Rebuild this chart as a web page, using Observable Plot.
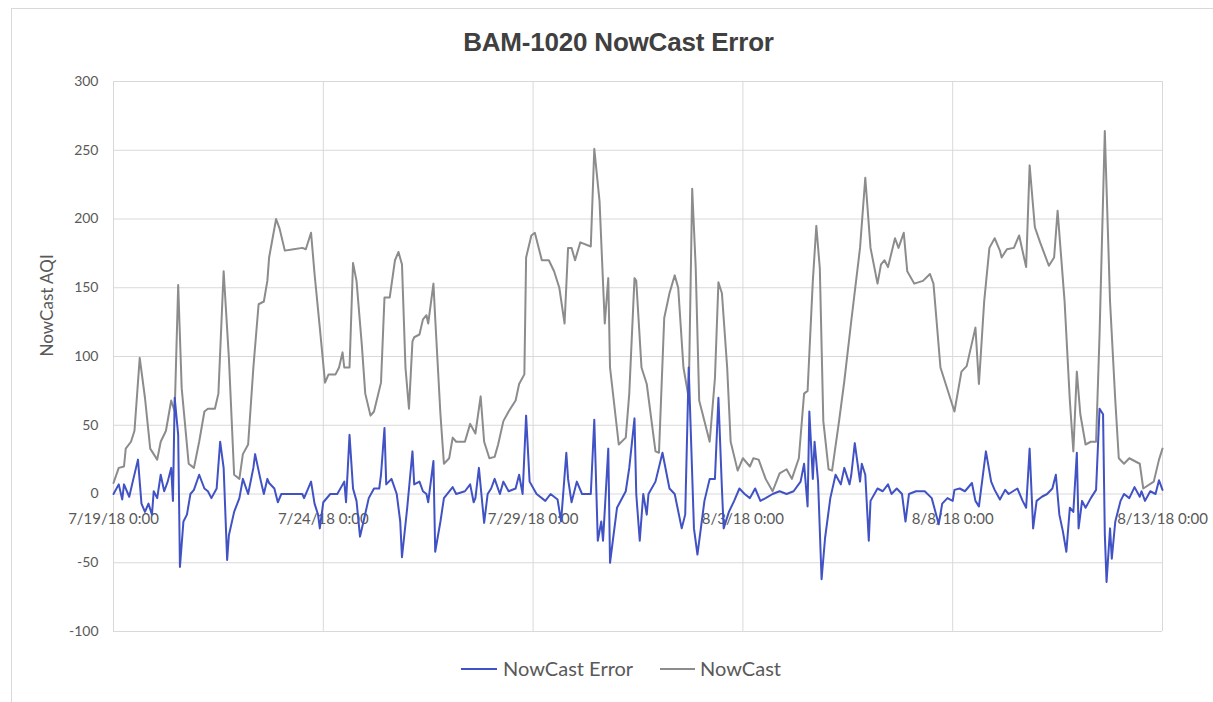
<!DOCTYPE html>
<html><head><meta charset="utf-8">
<script src="https://cdn.jsdelivr.net/npm/d3@7"></script>
<script src="https://cdn.jsdelivr.net/npm/@observablehq/plot@0.6"></script>
<style>
body{margin:0;background:#fff;}
#wrap{position:relative;width:1213px;height:702px;overflow:hidden;font-family:Lato,"Open Sans",sans-serif;background:#fff;}
#frame{position:absolute;left:11px;top:8px;width:1260px;height:760px;border-left:1px solid #d9d9d9;border-top:1px solid #d9d9d9;}
#title{position:absolute;left:0;top:27px;width:1237px;text-align:center;font:bold 26px "Liberation Sans",Arial,sans-serif;line-height:30px;color:#404040;letter-spacing:-0.2px;}
#chart{position:absolute;left:0;top:60px;}
.lg-line{position:absolute;height:2px;top:668px;}
.lg-text{position:absolute;top:656px;font-size:20px;line-height:24px;color:#595959;}
</style>
</head><body>
<div id="wrap">
  <div id="frame"></div>
  <div id="title">BAM-1020 NowCast Error</div>
  <div id="chart"></div>
  <div class="lg-line" style="left:461px;width:36px;background:#4052c4"></div>
  <div class="lg-text" style="left:503px">NowCast Error</div>
  <div class="lg-line" style="left:660px;width:35px;background:#8c8c8c"></div>
  <div class="lg-text" style="left:700px">NowCast</div>
</div>
<script>
// Hours since 7/19/18 0:00
const nowcastHours = [0,3,6,7,10,12,15,18,21,25,27,30,33,35,37,39,43,46,49,52,54,58,60,63,66,69,72,74,77,80,83,86,88,89,93,95,98,103,108,110,113,115,118,121,123,127,129,131,132,135,137,139,142,144,147,149,153,155,158,161,163,165,167,169,171,172,175,177,179,180,183,184,187,189,192,194,196,201,204,207,210,212,215,218,220,223,226,230,232,235,236,239,241,245,249,252,255,258,260,262,264,267,273,275,278,281,283,284,289,293,295,298,299,302,305,310,312,315,318,321,323,326,329,331,333,335,341,344,346,348,351,353,357,360,364,366,369,373,377,381,385,388,392,395,397,398,400,402,404,406,409,411,415,418,422,427,430,433,437,439,441,443,447,449,452,454,458,463,467,469,473,476,481,485,488,493,495,498,501,504,507,508,511,515,518,522,524,527,530,535,538,540,544,547,549,551,553,556,559,562,564,567,570,573,575,578,581,584,587,589,595,598,600];
const nowcastValues = [8,19,20,33,38,46,99,70,33,25,38,46,68,60,152,77,22,19,38,60,62,62,73,162,99,14,11,29,36,92,138,140,155,172,200,193,177,178,179,178,190,160,121,81,87,87,92,103,92,92,168,155,109,73,57,60,81,143,143,170,176,167,92,62,111,114,116,127,130,124,153,128,58,22,26,41,38,38,51,44,71,38,26,27,36,53,60,68,80,87,172,188,190,170,170,162,150,124,179,179,170,183,180,251,213,124,157,92,36,41,73,157,155,92,80,31,30,128,146,159,150,92,70,222,165,68,38,84,154,146,92,38,17,26,20,26,25,11,2,15,18,11,26,73,75,102,155,195,164,53,18,17,53,82,126,179,230,179,153,167,170,165,186,179,190,162,153,155,160,153,92,80,60,89,93,121,80,140,179,186,177,172,178,179,188,165,239,194,183,166,172,206,140,68,31,89,58,36,38,38,116,264,140,68,26,22,26,24,22,4,9,25,33];

const errorHours = [0,3,5,6,9,11,14,16,18,20,22,23,25,27,29,31,33,34,35,37,38,40,42,44,46,49,52,54,56,59,61,63,65,66,69,72,74,77,80,81,84,86,88,89,92,94,96,100,108,109,113,115,117,118,120,124,128,132,133,135,137,139,141,143,146,149,152,153,155,156,159,162,164,165,168,171,172,175,177,179,180,183,184,187,189,194,196,201,204,206,207,209,212,214,216,218,221,223,226,230,232,234,236,238,242,247,250,254,256,259,260,262,265,268,273,275,277,279,280,283,284,288,293,295,298,299,301,303,305,306,310,314,318,321,325,327,329,332,334,338,341,344,346,348,349,352,355,358,361,364,367,370,373,377,381,385,389,393,395,397,398,400,401,403,405,407,410,413,416,418,421,422,424,427,428,430,432,433,437,440,443,445,448,451,453,455,459,464,468,472,474,477,480,481,484,487,491,493,495,499,502,504,507,510,512,517,520,522,524,526,528,531,534,537,539,541,543,545,547,549,551,552,554,556,559,562,564,566,567,568,570,571,573,576,578,581,584,587,588,590,593,596,598,600];
const errorValues = [0,7,-4,7,-2,9,25,-7,-13,-7,-15,2,-3,14,2,9,19,-5,70,43,-53,-20,-15,0,3,14,4,2,-3,4,38,19,-48,-30,-13,-3,11,0,19,29,11,0,11,8,4,-6,0,0,0,-3,9,-7,-15,-25,-6,0,0,9,-6,43,4,-5,-31,-20,-3,4,4,14,48,7,11,0,-20,-46,-10,31,7,9,2,0,-6,24,-42,-20,-3,5,0,2,7,-6,-3,19,-21,0,4,11,0,9,2,4,14,0,57,9,0,-5,0,-4,-20,30,11,-6,9,0,0,54,-34,-20,-34,33,-50,-10,2,19,55,0,-34,0,-15,0,9,30,4,0,-25,-15,92,-25,-44,-5,11,11,70,4,-25,-13,-5,4,0,-3,4,-5,-3,0,2,0,2,9,22,-9,60,11,38,9,-62,-32,-3,14,7,19,7,14,37,9,22,14,-34,-5,4,2,7,0,4,0,-20,0,2,2,-3,-22,-7,-3,-5,3,4,2,8,-5,-9,31,9,3,-4,3,0,4,-5,-10,33,-25,-5,-2,0,4,14,-15,-27,-42,-10,-13,30,-25,-5,-10,-3,3,62,58,-29,-64,-25,-47,-20,-5,0,-3,5,-2,2,-5,2,0,10,3];

const xTickDays = [0,5,10,15,20,25];
const xTickLabels = ["7/19/18 0:00","7/24/18 0:00","7/29/18 0:00","8/3/18 0:00","8/8/18 0:00","8/13/18 0:00"];
const yTicks = [-100,-50,0,50,100,150,200,250,300];

const start = Date.UTC(2018,6,19);
const toDate = h => new Date(start + h*3600e3);
const nowcast = nowcastHours.map((h,i)=>({date: toDate(h), value: nowcastValues[i]}));
const errors = errorHours.map((h,i)=>({date: toDate(h), value: errorValues[i]}));
const xTicks = xTickDays.map((d,i) => ({date: toDate(d*24), label: xTickLabels[i]}));

const chart = Plot.plot({
  width: 1213, height: 590,
  marginTop: 21, marginBottom: 19, marginLeft: 113, marginRight: 51,
  x: {type: "utc", domain: [toDate(0), toDate(600)], axis: null},
  y: {domain: [-100, 300], axis: null},
  style: {fontFamily: "Lato, 'Open Sans', sans-serif", background: "transparent", overflow: "visible"},
  marks: [
    Plot.ruleY(yTicks, {stroke: "#d9d9d9", strokeWidth: 1}),
    Plot.ruleX(xTicks, {x: "date", stroke: "#d9d9d9", strokeWidth: 1}),
    Plot.axisY(yTicks, {tickSize: 0, tickPadding: 15, fontSize: 14, fill: "#595959", label: null, tickFormat: d => String(d)}),
    Plot.text(["NowCast AQI"], {frameAnchor: "left", rotate: -90, dx: -66, fontSize: 17, fill: "#595959"}),
    Plot.text(xTicks, {x: "date", y: () => 0, text: "label", dy: 25, fontSize: 15, fill: "#595959"}),
    Plot.line(nowcast, {x: "date", y: "value", stroke: "#8c8c8c", strokeWidth: 2}),
    Plot.line(errors, {x: "date", y: "value", stroke: "#4052c4", strokeWidth: 2})
  ]
});
document.getElementById("chart").appendChild(chart);
</script>
</body></html>
